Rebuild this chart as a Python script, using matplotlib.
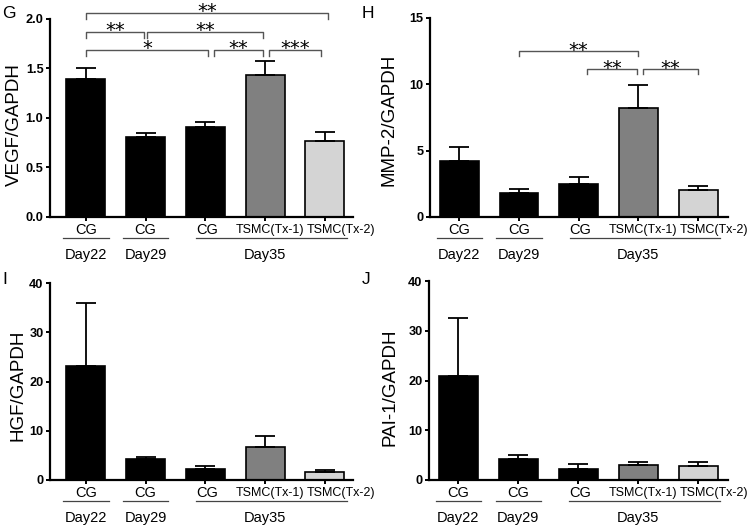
import matplotlib
matplotlib.use("Agg")
import matplotlib.pyplot as plt
from matplotlib.transforms import offset_copy

plt.rcParams["font.family"] = ["Liberation Sans", "DejaVu Sans"]

groups = ["CG", "CG", "CG", "TSMC(Tx-1)", "TSMC(Tx-2)"]
days = ["Day22", "Day29", "Day35"]
bar_colors = ["black", "black", "black", "#808080", "#d4d4d4"]

vegf_mean = [1.39, 0.81, 0.91, 1.43, 0.77]
vegf_sem = [0.11, 0.04, 0.045, 0.15, 0.09]
mmp2_mean = [4.25, 1.83, 2.52, 8.24, 2.05]
mmp2_sem = [1.0, 0.3, 0.5, 1.72, 0.27]
hgf_mean = [23.1, 4.2, 2.25, 6.6, 1.7]
hgf_sem = [12.9, 0.55, 0.6, 2.4, 0.4]
pai1_mean = [20.9, 4.25, 2.2, 3.1, 2.9]
pai1_sem = [11.6, 0.85, 1.0, 0.55, 0.7]

# significance brackets: (left bar, right bar, height, label)
vegf_sig = [(0.0, 4.05, 2.065, "**"), (0.0, 0.97, 1.87, "**"), (1.03, 2.97, 1.87, "**"),
            (0.0, 2.05, 1.69, "*"), (2.14, 2.97, 1.69, "**"), (3.07, 3.94, 1.69, "***")]
mmp2_sig = [(1.0, 3.0, 12.5, "**"), (2.14, 2.98, 11.15, "**"), (3.08, 4.0, 11.15, "**")]

# group labels are nudged right a bit so the two TSMC names don't collide
label_shift = [0, 0, 0.03, 0.08, 0.27]

# panel: letter, axes box in pixels (l, t, r, b), ylabel, ylabel centre (px x, axes y),
# mean, sem, ymax, yticks, tick labels, brackets, bracket tick drop, xlim
panels = [
    ("G", (50, 19, 353, 217), "VEGF/GAPDH", (14.5, 0.465), vegf_mean, vegf_sem, 2.0,
     [0, 0.5, 1.0, 1.5, 2.0], ["0.0", "0.5", "1.0", "1.5", "2.0"], vegf_sig, 0.06, (-0.60, 4.47)),
    ("H", (430, 18, 728, 217), "MMP-2/GAPDH", (389, 0.49), mmp2_mean, mmp2_sem, 15,
     [0, 5, 10, 15], ["0", "5", "10", "15"], mmp2_sig, 0.4, (-0.49, 4.50)),
    ("I", (50, 283, 353, 480), "HGF/GAPDH", (18, 0.48), hgf_mean, hgf_sem, 40,
     [0, 10, 20, 30, 40], ["0", "10", "20", "30", "40"], [], 0, (-0.60, 4.47)),
    ("J", (429, 281, 728, 480), "PAI-1/GAPDH", (390, 0.467), pai1_mean, pai1_sem, 40,
     [0, 10, 20, 30, 40], ["0", "10", "20", "30", "40"], [], 0, (-0.49, 4.50)),
]

W, H = 749, 529
fig = plt.figure(figsize=(W / 100, H / 100), dpi=100)

for letter, (x0, y0, x1, y1), ylab, (lx, ly), mean, sem, ytop, yt, ytl, sig, drop, xlim in panels:
    ax = fig.add_axes([x0 / W, 1 - y1 / H, (x1 - x0) / W, (y1 - y0) / H])
    xs = list(range(len(mean)))
    ax.bar(xs, mean, width=0.65, color=bar_colors, edgecolor="black", linewidth=1.2, zorder=2)
    ax.errorbar(xs, mean, yerr=[[0] * len(sem), sem], fmt="none", ecolor="black",
                elinewidth=1.3, capsize=7, capthick=1.3, zorder=3)
    ax.set_xlim(*xlim)
    ax.set_ylim(0, ytop)
    ax.set_yticks(yt)
    ax.set_yticklabels(ytl, fontweight="bold", fontsize=9.2)
    ax.set_xticks(xs)
    ax.set_xticklabels([])
    ax.tick_params(axis="both", direction="out", length=3.2, width=1.4, pad=1.5)
    for s in ["top", "right"]:
        ax.spines[s].set_visible(False)
    for s in ["left", "bottom"]:
        ax.spines[s].set_linewidth(1.6)
    ax.set_ylabel(ylab, fontsize=13.5)
    ax.yaxis.label.set_va("center")
    ax.yaxis.set_label_coords((lx - x0) / (x1 - x0), ly)

    # category labels under the axis
    xt = ax.get_xaxis_transform()
    t_cg = offset_copy(xt, fig=fig, y=-13, units="dots")
    t_line = offset_copy(xt, fig=fig, y=-21, units="dots")
    t_day = offset_copy(xt, fig=fig, y=-38, units="dots")
    for i, g in enumerate(groups):
        fs = 10.5 if g == "CG" else 9
        ax.text(i + label_shift[i], 0, g, transform=t_cg, ha="center", va="center", fontsize=fs)
    for i, d in enumerate(days[:2]):
        ax.plot([i - 0.38, i + 0.38], [0, 0], color="#444444", lw=0.9,
                transform=t_line, clip_on=False)
        ax.text(i, 0, d, transform=t_day, ha="center", va="center", fontsize=10.5)
    ax.plot([1.85, 4.37], [0, 0], color="#444444", lw=0.9, transform=t_line, clip_on=False)
    ax.text(3, 0, days[2], transform=t_day, ha="center", va="center", fontsize=10.5)

    for a, b, lev, lab in sig:
        ax.plot([a, a, b, b], [lev - drop, lev, lev, lev - drop], color="#555555",
                lw=1.0, clip_on=False)
        ax.annotate(lab, ((a + b) / 2, lev), xytext=(0, -3.2), textcoords="offset points",
                    ha="center", va="baseline", fontsize=14, family="DejaVu Sans",
                    annotation_clip=False)

    lpx = 2 if x0 < 100 else 362
    lpy = 13 if y0 < 100 else 279
    fig.text(lpx / W, 1 - lpy / H, letter, fontsize=12.5, ha="left", va="center")

fig.savefig("out.png", dpi=100)
